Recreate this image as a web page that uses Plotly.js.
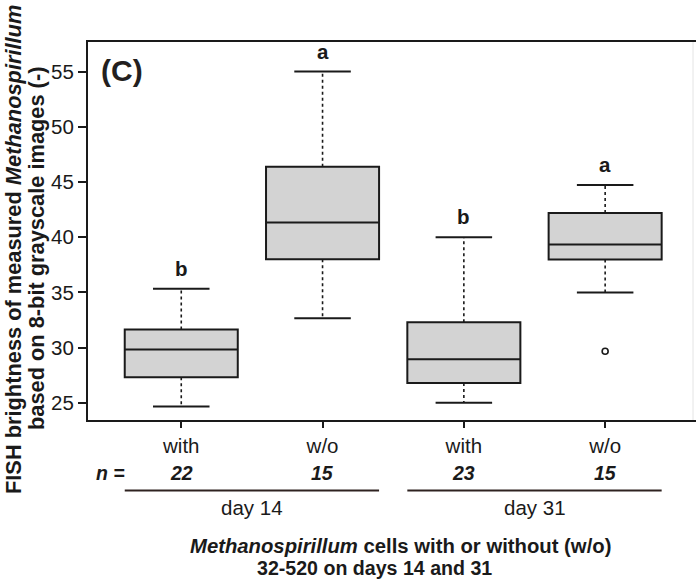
<!DOCTYPE html>
<html><head><meta charset="utf-8">
<script src="https://cdn.plot.ly/plotly-3.0.1.min.js"></script>
<style>html,body{margin:0;padding:0;background:#fff;overflow:hidden}</style>
</head><body><div id="chart" style="width:696px;height:579px"></div>
<script>
// ---- data ----
const categories = ['with', 'w/o', 'with', 'w/o'];
const positions = [1, 2, 3, 4];
const groups = ['day 14', 'day 31'];
const groupMembers = [[1, 2], [3, 4]];
const nValues = ['22', '15', '23', '15'];
const letters = ['b', 'a', 'b', 'a'];
const lowerWhisker = [24.67, 32.65, 25.0, 35.0];
const q1 = [27.32, 38.0, 26.8, 37.98];
const median = [29.83, 41.33, 28.94, 39.34];
const q3 = [31.64, 46.37, 32.3, 42.2];
const upperWhisker = [35.34, 55.0, 40.0, 44.73];
const outlierX = [4];
const outlierY = [29.67];
const yTicks = [25, 30, 35, 40, 45, 50, 55];

// ---- style ----
const FONT = 'Liberation Sans, Arial, Helvetica, sans-serif';
const INK = '#1a1a1a';
const BOXW = 0.8;
const CAPHALF = BOXW / 4;

const whiskX = [], whiskY = [], capX = [], capY = [];
positions.forEach((p, i) => {
  whiskX.push(p, p, null, p, p, null);
  whiskY.push(q3[i], upperWhisker[i], null, q1[i], lowerWhisker[i], null);
  capX.push(p - CAPHALF, p + CAPHALF, null, p - CAPHALF, p + CAPHALF, null);
  capY.push(upperWhisker[i], upperWhisker[i], null, lowerWhisker[i], lowerWhisker[i], null);
});

const traces = [
  {type: 'scatter', mode: 'lines', x: whiskX, y: whiskY, line: {color: INK, width: 1.6, dash: 'dot'}, hoverinfo: 'skip', showlegend: false},
  {type: 'scatter', mode: 'lines', x: capX, y: capY, line: {color: INK, width: 2}, hoverinfo: 'skip', showlegend: false},
  {type: 'box', x: positions, q1: q1, median: median, q3: q3, lowerfence: q1, upperfence: q3,
   width: BOXW, whiskerwidth: 0, fillcolor: '#d3d3d3', line: {color: INK, width: 2}, hoverinfo: 'skip', showlegend: false},
  {type: 'scatter', mode: 'markers', x: outlierX, y: outlierY,
   marker: {symbol: 'circle-open', size: 6, color: INK, line: {width: 1.6, color: INK}}, hoverinfo: 'skip', showlegend: false}
];

// pixel helpers for paper coords (plot area: x 88..696, y 42..420)
const px = x => (x - 88) / 608;
const py = y => (420 - y) / 378;

const annotations = [];
annotations.push({text: '<b>(C)</b>', xref: 'paper', yref: 'paper', x: px(99), y: py(70), xanchor: 'left', yanchor: 'middle', showarrow: false, font: {family: FONT, size: 30, color: '#231f20'}});
positions.forEach((p, i) => {
  annotations.push({text: '<b>' + letters[i] + '</b>', xref: 'x', yref: 'y', x: p, y: upperWhisker[i], yanchor: 'bottom', yshift: 7, showarrow: false, font: {family: FONT, size: 20.5, color: INK}});
  annotations.push({text: '<b><i>' + nValues[i] + '</i></b>', xref: 'x', yref: 'paper', x: p, y: py(473), yanchor: 'middle', showarrow: false, font: {family: FONT, size: 19.5, color: INK}});
});
annotations.push({text: '<b><i>n =</i></b>', xref: 'paper', yref: 'paper', x: px(94), y: py(473), yanchor: 'middle', showarrow: false, font: {family: FONT, size: 19.5, color: INK}});

const shapes = [];
groups.forEach((g, k) => {
  const m = groupMembers[k];
  const a = m[0], b = m[m.length - 1];
  shapes.push({type: 'line', xref: 'x', yref: 'paper', x0: a - BOXW / 2, x1: b + BOXW / 2, y0: py(490.5), y1: py(490.5), line: {color: '#2e2220', width: 2}});
  annotations.push({text: g, xref: 'x', yref: 'paper', x: (a + b) / 2, y: py(507.5), yanchor: 'middle', showarrow: false, font: {family: FONT, size: 20.5, color: INK}});
});
shapes.push({type: 'line', xref: 'paper', yref: 'paper', x0: px(693), x1: px(693), y0: 0, y1: 1, line: {color: '#e4e4e4', width: 1}});

// axis titles
annotations.push({text: '<b>FISH brightness of measured <i>Methanospirillum</i></b>', xref: 'paper', yref: 'paper', x: px(13), y: py(250), xanchor: 'center', yanchor: 'middle', textangle: -90, showarrow: false, font: {family: FONT, size: 21.8, color: INK}});
annotations.push({text: '<b>based on 8-bit grayscale images (-)</b>', xref: 'paper', yref: 'paper', x: px(36), y: py(249), xanchor: 'center', yanchor: 'middle', textangle: -90, showarrow: false, font: {family: FONT, size: 21.8, color: INK}});
annotations.push({text: '<b><i>Methanospirillum</i> cells with or without (w/o)</b>', xref: 'paper', yref: 'paper', x: px(400), y: py(545.5), yanchor: 'middle', showarrow: false, font: {family: FONT, size: 20.3, color: INK}});
annotations.push({text: '<b>32-520 on days 14 and 31</b>', xref: 'paper', yref: 'paper', x: px(374), y: py(579), yanchor: 'bottom', yshift: -2, showarrow: false, font: {family: FONT, size: 19.6, color: INK}});

const layout = {
  width: 696, height: 579,
  margin: {l: 88, r: 0, t: 42, b: 159, pad: 0},
  paper_bgcolor: '#fff', plot_bgcolor: '#fff',
  showlegend: false,
  font: {family: FONT, color: INK},
  xaxis: {range: [0.34, 4.643], tickmode: 'array', tickvals: positions, ticktext: categories,
    ticks: 'outside', ticklen: 6, tickwidth: 2, tickcolor: INK, showline: true, linewidth: 2, linecolor: INK,
    mirror: true, showgrid: false, zeroline: false, tickfont: {family: FONT, size: 20.5, color: INK}, fixedrange: true},
  yaxis: {range: [23.44, 57.68], tickmode: 'array', tickvals: yTicks,
    ticks: 'outside', ticklen: 8, tickwidth: 2, tickcolor: INK, showline: true, linewidth: 2, linecolor: INK,
    showgrid: false, zeroline: false, tickfont: {family: FONT, size: 20.5, color: INK}, fixedrange: true},
  annotations: annotations,
  shapes: shapes
};

Plotly.newPlot('chart', traces, layout, {staticPlot: true, displayModeBar: false});
</script>
</body></html>
